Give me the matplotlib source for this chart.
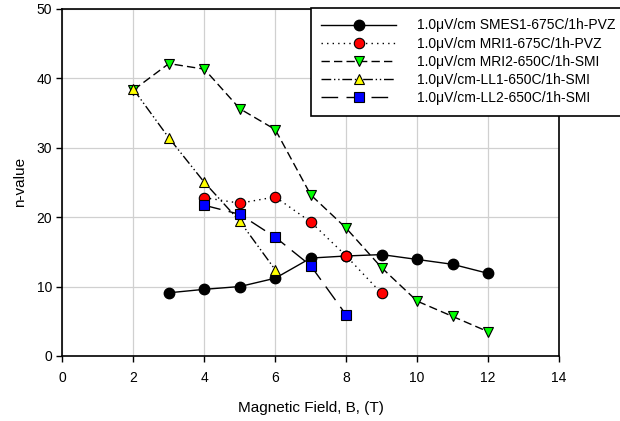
import matplotlib.pyplot as plt

plt.rcParams['font.family'] = ['Liberation Sans', 'DejaVu Sans']

# data
smes1_x = [3, 4, 5, 6, 7, 8, 9, 10, 11, 12]
smes1_n = [9.1, 9.6, 10.0, 11.2, 14.1, 14.4, 14.6, 13.9, 13.2, 11.9]

mri1_x = [4, 5, 6, 7, 8, 9]
mri1_n = [22.8, 22.0, 22.9, 19.3, 14.4, 9.0]

mri2_x = [2, 3, 4, 5, 6, 7, 8, 9, 10, 11, 12]
mri2_n = [38.3, 42.1, 41.3, 35.6, 32.6, 23.2, 18.4, 12.7, 7.9, 5.7, 3.5]

ll1_x = [2, 3, 4, 5, 6]
ll1_n = [38.4, 31.4, 25.0, 19.4, 12.4]

ll2_x = [4, 5, 6, 7, 8]
ll2_n = [21.7, 20.4, 17.1, 13.0, 5.9]

labels = ['1.0\u03bcV/cm SMES1-675C/1h-PVZ',
          '1.0\u03bcV/cm MRI1-675C/1h-PVZ',
          '1.0\u03bcV/cm MRI2-650C/1h-SMI',
          '1.0\u03bcV/cm-LL1-650C/1h-SMI',
          '1.0\u03bcV/cm-LL2-650C/1h-SMI']

fig = plt.figure(figsize=(6.2, 4.21), dpi=100)
ax = fig.add_axes([0.1008, 0.1544, 0.8008, 0.8249])

ax.plot(smes1_x, smes1_n, color='black', lw=1, ls='-',
        marker='o', ms=7.5, mfc='black', mec='black', label=labels[0])
ax.plot(mri1_x, mri1_n, color='black', lw=1, ls=(0, (1, 3)),
        marker='o', ms=7.5, mfc='#ff0000', mec='black', mew=0.8, label=labels[1])
ax.plot(mri2_x, mri2_n, color='black', lw=1, ls=(0, (6, 3)),
        marker='v', ms=7.5, mfc='#00ff00', mec='black', mew=0.8, label=labels[2])
ax.plot(ll1_x, ll1_n, color='black', lw=1, ls=(0, (7, 2, 1, 2, 1, 2)),
        marker='^', ms=7.5, mfc='#ffff00', mec='black', mew=0.8, label=labels[3])
ax.plot(ll2_x, ll2_n, color='black', lw=1, ls=(0, (12, 6)),
        marker='s', ms=7, mfc='#0000ff', mec='black', mew=0.8, label=labels[4])

ax.set_xlim(0, 14)
ax.set_ylim(0, 50)
ax.set_xticks(range(0, 15, 2))
ax.set_yticks(range(0, 51, 10))
ax.grid(True, color='#d0d0d0', lw=0.9)
ax.set_axisbelow(True)
ax.tick_params(direction='out', length=4, width=1, labelsize=10)
ax.tick_params(axis='x', pad=7)
for s in ax.spines.values():
    s.set_linewidth(1.2)

ax.set_xlabel('Magnetic Field, B, (T)', fontsize=11, labelpad=11)
ax.set_ylabel('n-value', fontsize=11, labelpad=7)

leg = fig.legend(loc='upper left', bbox_to_anchor=(311 / 620, 1 - 8 / 421),
                 fontsize=10, handlelength=5.4, frameon=True, fancybox=False,
                 edgecolor='black', framealpha=1, borderpad=0.75, labelspacing=0.3,
                 handletextpad=1.45, borderaxespad=0)
leg.get_frame().set_linewidth(1.2)

fig.savefig('out.png', dpi=100)
